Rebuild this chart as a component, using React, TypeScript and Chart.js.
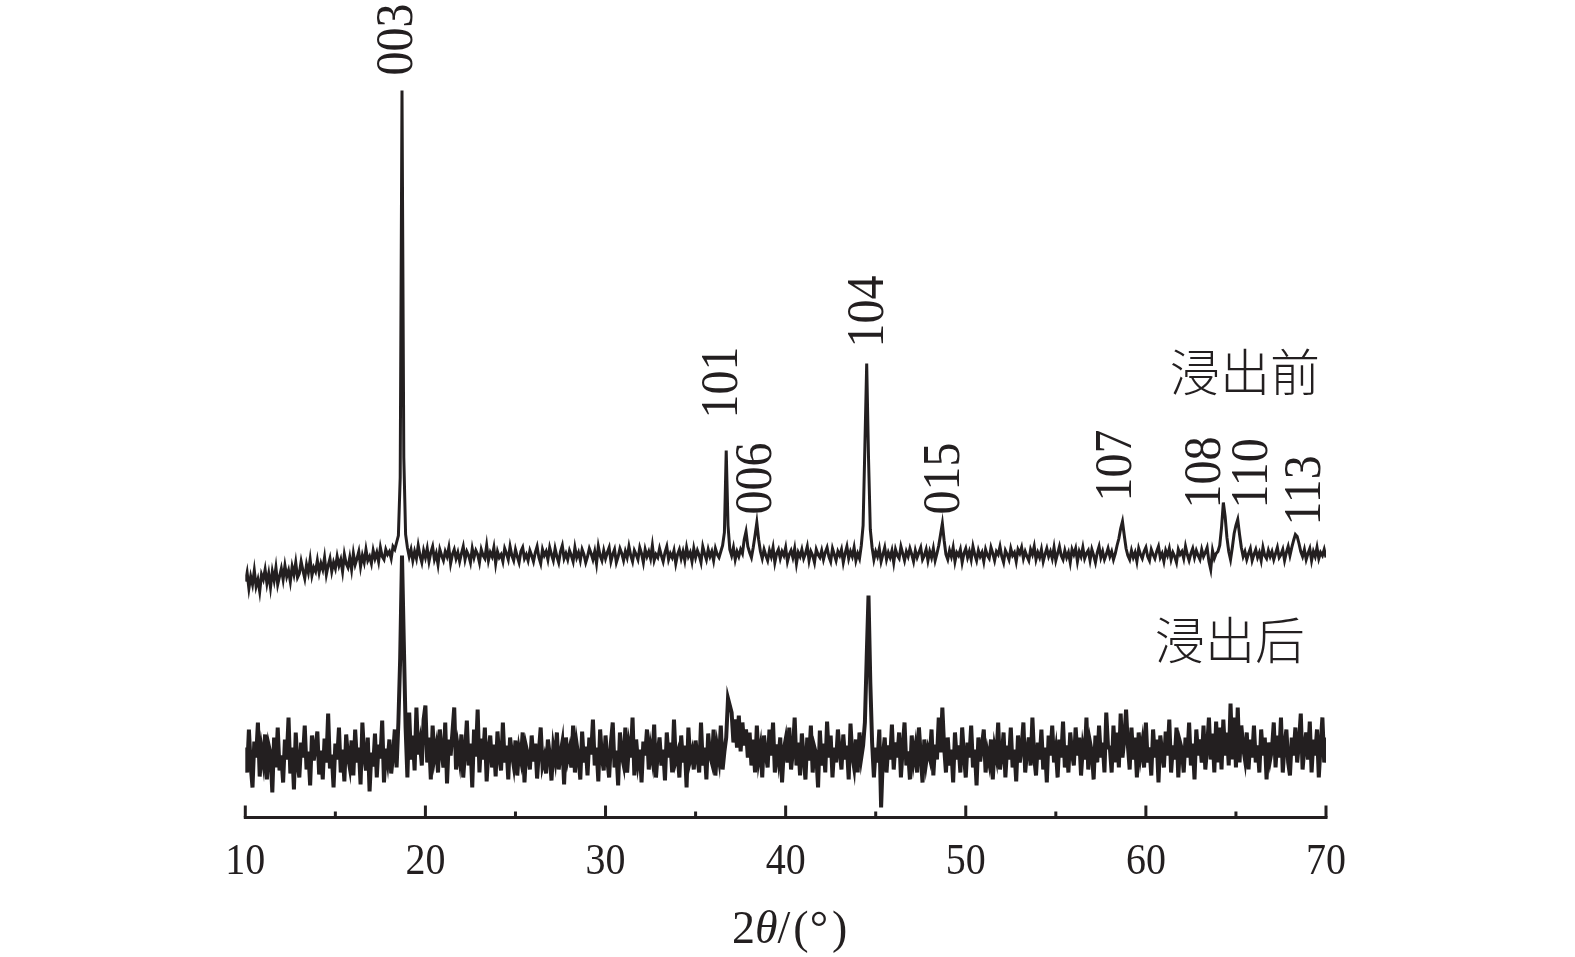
import React, { useEffect, useRef } from "react";
import { Chart, registerables } from "chart.js";

Chart.register(...registerables);

// 2θ sampling grid (degrees)
const twoThetaStart = 10;
const twoThetaStep = 0.1;

// XRD intensity (a.u., stacked) before leaching, 10.0° … 70.0° every 0.1°
const beforeLeaching = [
  236,245,229,241,233,247,231,238,226,243,
  238,248,234,244,230,246,237,250,233,241,
  249,238,252,241,247,236,251,243,255,240,
  244,256,247,239,253,245,258,242,250,246,
  257,245,254,248,260,243,252,259,246,255,
  249,261,252,258,246,263,254,250,260,248,
  264,253,259,266,251,262,255,268,257,261,
  254,267,259,265,256,270,261,258,268,263,
  266,259,271,268,275,282,340,727,360,283,
  270,261,268,257,266,259,272,262,255,267,
  260,269,256,265,271,258,264,253,268,262,
  257,266,261,270,254,263,268,259,265,256,
  264,271,258,266,262,255,269,260,267,263,
  255,268,262,259,272,257,265,261,270,254,
  266,260,263,256,269,264,258,271,262,257,
  268,261,255,266,270,259,263,257,267,262,
  256,265,271,260,254,268,262,266,258,270,
  263,257,269,261,255,266,272,259,264,258,
  267,262,256,270,260,265,257,268,263,255,
  261,269,264,258,266,254,271,262,257,267,
  259,265,270,256,263,268,255,261,269,264,
  257,266,260,271,262,256,267,263,258,270,
  264,255,268,261,266,259,272,257,263,260,
  269,262,256,265,271,258,264,260,267,254,
  263,268,259,266,257,270,261,265,256,269,
  260,267,262,255,271,264,258,268,261,266,
  257,269,263,260,266,272,285,367,292,268,
  262,270,258,266,261,268,264,278,286,271,
  265,260,270,282,295,278,266,259,268,262,
  257,267,261,270,255,264,268,259,266,262,
  270,256,263,267,260,269,254,265,261,268,
  259,264,271,257,266,262,255,268,263,260,
  267,258,265,270,261,256,269,263,257,266,
  262,268,255,264,271,259,266,261,270,257,
  264,259,272,292,372,454,360,288,270,258,
  266,261,269,256,263,270,258,265,260,267,
  255,268,262,259,271,264,257,266,261,269,
  263,256,267,260,265,270,258,262,268,257,
  266,260,269,257,264,272,283,294,277,263,
  258,267,261,270,256,265,262,268,255,264,
  269,260,266,258,271,263,257,267,261,265,
  256,268,262,259,270,264,257,266,263,271,
  261,255,267,263,258,269,262,265,256,268,
  264,270,259,266,261,257,268,263,271,258,
  265,260,268,256,263,269,261,266,259,270,
  257,264,271,262,258,267,260,265,255,268,
  263,269,256,266,261,270,259,264,267,257,
  268,262,255,265,271,260,266,258,263,269,
  261,266,258,264,272,279,289,296,282,269,
  262,258,267,260,265,256,269,263,259,266,
  270,261,257,268,263,259,266,271,260,264,
  256,267,262,269,258,265,261,255,268,263,
  266,259,271,263,257,264,269,260,267,262,
  258,268,261,265,270,256,248,267,259,264,
  266,272,290,315,301,280,266,258,270,284,
  292,298,283,270,261,266,258,264,269,257,
  263,268,260,265,257,270,262,259,267,261,
  266,258,264,270,260,263,268,257,265,271,
  262,270,277,283,281,274,266,261,268,258,
  264,269,257,266,261,270,259,265,262,268,
  260,
];

// XRD intensity (a.u., stacked) after leaching, 10.0° … 70.0° every 0.1°
const afterLeaching = [
  70,45,88,52,30,76,60,95,41,68,
  55,83,38,72,64,25,80,50,90,47,
  62,35,78,58,100,44,70,28,85,53,
  40,75,60,92,48,66,32,82,57,71,
  86,43,67,38,79,55,104,49,63,30,
  74,58,90,45,68,36,83,61,50,77,
  42,88,55,70,33,95,62,47,80,26,
  65,51,84,40,73,59,97,35,69,56,
  78,44,62,88,50,95,160,262,175,90,
  40,105,58,82,47,110,63,75,52,98,
  112,55,80,38,92,60,71,45,88,66,
  50,95,34,78,62,85,110,48,70,57,
  83,40,66,97,52,74,30,88,61,108,
  45,79,58,90,36,68,82,50,73,41,
  86,60,47,95,55,72,38,80,64,52,
  77,42,68,58,85,35,70,62,48,82,
  56,74,39,66,90,52,60,44,78,63,
  37,70,58,85,48,64,75,33,80,59,
  68,50,92,45,73,60,38,86,55,71,
  42,80,63,98,52,70,36,88,60,47,
  82,58,40,75,95,50,67,32,85,62,
  53,90,45,72,60,100,42,78,55,68,
  35,76,62,88,48,70,58,93,40,65,
  80,52,68,37,85,60,75,45,98,57,
  64,40,82,55,72,30,90,58,66,48,
  77,60,45,95,52,70,38,84,62,55,
  88,42,70,58,92,48,66,80,119,112,
  105,75,98,70,102,66,95,72,88,60,
  85,52,78,45,92,58,70,40,82,63,
  50,88,62,95,45,73,58,80,35,68,
  78,55,90,48,66,100,52,75,42,84,
  60,38,80,57,92,45,70,63,30,87,
  52,74,45,96,60,82,40,70,55,88,
  66,48,83,58,72,38,94,62,50,78,
  45,85,60,72,95,160,222,135,75,40,
  70,55,88,10,62,80,45,72,58,93,
  48,75,60,85,40,70,95,52,66,38,
  82,57,70,45,90,62,35,78,55,68,
  60,88,42,73,58,100,65,110,70,45,
  80,52,68,35,85,58,72,45,90,62,
  40,75,60,92,50,68,32,80,56,72,
  88,45,65,55,78,38,70,60,95,48,
  62,85,40,72,58,90,50,68,36,82,
  55,70,95,45,66,80,52,100,60,42,
  75,58,88,48,70,35,82,62,92,55,
  68,40,78,60,96,50,72,45,85,64,
  52,90,62,80,42,70,58,100,48,75,
  65,38,82,55,92,60,75,45,105,70,
  70,45,92,55,85,50,104,60,78,108,
  72,48,90,58,80,40,85,62,75,50,
  95,55,70,42,88,60,78,35,82,65,
  50,86,62,98,45,72,58,90,40,75,
  68,45,80,60,95,52,74,38,88,62,
  78,55,92,48,70,100,58,84,45,96,
  55,90,48,98,62,85,52,114,58,100,
  50,110,55,92,70,58,85,48,78,60,
  92,55,72,45,88,62,80,38,75,58,
  68,95,50,82,60,100,45,72,88,55,
  42,80,62,90,55,75,104,48,70,85,
  58,96,45,78,62,88,40,72,100,55,
  80,
];

// Axis ticks
const majorTicks = [10, 20, 30, 40, 50, 60, 70];
const minorTicks = [15, 25, 35, 45, 55, 65];
const tickLabels = ["10", "20", "30", "40", "50", "60", "70"];

// Peak (hkl) annotations: text, 2θ of label centre, intensity at label start
const peakLabels = ["003", "101", "006", "104", "015", "107", "108", "110", "113"];
const peakLabelTheta = [18.26, 36.33, 38.19, 44.44, 48.65, 58.2, 63.12, 65.73, 68.7];
const peakLabelBase = [742, 399, 303, 470, 303, 316, 309, 309, 292];

// Series names (right-aligned at 2θ, baseline at intensity)
const seriesNames = ["浸出前", "浸出后"];
const seriesNameTheta = [69.67, 68.84];
const seriesNameBase = [427, 159];

const INK = "#231f20";
const SERIF = '"Liberation Serif", "Times New Roman", serif';

const twoTheta = beforeLeaching.map((_, i) => +(twoThetaStart + i * twoThetaStep).toFixed(1));

const decorPlugin = {
  id: "xrdDecor",
  afterDraw(chart: any) {
    const ctx: CanvasRenderingContext2D = chart.ctx;
    const xs = chart.scales.x;
    const ys = chart.scales.y;
    const area = chart.chartArea;
    ctx.save();
    ctx.strokeStyle = INK;
    ctx.fillStyle = INK;
    ctx.lineWidth = 3;
    ctx.lineCap = "butt";
    const axisY = ys.getPixelForValue(0);
    const x0 = xs.getPixelForValue(majorTicks[0]);
    const x1 = xs.getPixelForValue(majorTicks[majorTicks.length - 1]);
    ctx.beginPath();
    ctx.moveTo(x0 - 1.5, axisY);
    ctx.lineTo(x1 + 1.5, axisY);
    ctx.stroke();
    ctx.beginPath();
    majorTicks.forEach((t) => {
      const px = xs.getPixelForValue(t);
      ctx.moveTo(px, axisY);
      ctx.lineTo(px, axisY - 12);
    });
    minorTicks.forEach((t) => {
      const px = xs.getPixelForValue(t);
      ctx.moveTo(px, axisY);
      ctx.lineTo(px, axisY - 6);
    });
    ctx.stroke();

    // tick labels
    ctx.font = `40px ${SERIF}`;
    ctx.textAlign = "center";
    ctx.textBaseline = "alphabetic";
    majorTicks.forEach((t, i) => {
      const px = xs.getPixelForValue(t);
      ctx.save();
      ctx.translate(px, axisY + 56);
      ctx.scale(1, 1.12);
      ctx.fillText(tickLabels[i], 0, 0);
      ctx.restore();
    });

    // axis title 2θ/(°)
    const parts: [string, boolean, number][] = [
      ["2", false, 0],
      ["θ", true, 0],
      ["/", false, 3],
      ["(", false, 1],
      ["°", false, 4],
      [")", false, 0],
    ];
    const fontN = `46px ${SERIF}`;
    const fontI = `italic 46px ${SERIF}`;
    let total = 0;
    parts.forEach(([s, it, gap]) => {
      ctx.font = it ? fontI : fontN;
      total += ctx.measureText(s).width + gap;
    });
    let cx = (area.left + area.right) / 2 + 4 - total / 2;
    ctx.textAlign = "left";
    parts.forEach(([s, it, gap]) => {
      ctx.font = it ? fontI : fontN;
      ctx.fillText(s, cx, axisY + 125);
      cx += ctx.measureText(s).width + gap;
    });

    // peak labels (rotated)
    ctx.font = `48px ${SERIF}`;
    ctx.textAlign = "left";
    peakLabels.forEach((s, i) => {
      const px = xs.getPixelForValue(peakLabelTheta[i]);
      const py = ys.getPixelForValue(peakLabelBase[i]);
      ctx.save();
      ctx.translate(px + 17.5, py);
      ctx.rotate(-Math.PI / 2);
      ctx.scale(1, 1.08);
      ctx.fillText(s, 0, 0);
      ctx.restore();
    });

    // series names
    ctx.font = `300 50px "Noto Sans CJK SC", sans-serif`;
    ctx.textAlign = "right";
    seriesNames.forEach((s, i) => {
      const px = xs.getPixelForValue(seriesNameTheta[i]);
      const py = ys.getPixelForValue(seriesNameBase[i]);
      ctx.fillText(s, px, py);
    });
    ctx.restore();
  },
};

export default function App() {
  const canvasRef = useRef<HTMLCanvasElement | null>(null);

  useEffect(() => {
    if (!canvasRef.current) return;
    const chart = new Chart(canvasRef.current, {
      type: "line",
      data: {
        datasets: [
          {
            label: seriesNames[1],
            data: afterLeaching.map((v, i) => ({ x: twoTheta[i], y: v })),
            borderColor: INK,
            borderWidth: 4,
            borderJoinStyle: "miter",
            pointRadius: 0,
            tension: 0,
            fill: false,
          },
          {
            label: seriesNames[0],
            data: beforeLeaching.map((v, i) => ({ x: twoTheta[i], y: v })),
            borderColor: INK,
            borderWidth: 3,
            pointRadius: 0,
            tension: 0,
            fill: false,
          },
        ],
      },
      options: {
        animation: false,
        responsive: true,
        maintainAspectRatio: false,
        events: [],
        layout: { padding: { left: 245.3, right: 249, top: 17.5, bottom: 139.5 } },
        scales: {
          x: { type: "linear", min: 10, max: 70, display: false },
          y: { type: "linear", min: 0, max: 800, display: false },
        },
        plugins: {
          legend: { display: false },
          tooltip: { enabled: false },
        },
      },
      plugins: [decorPlugin],
    });
    return () => chart.destroy();
  }, []);

  return (
    <div style={{ position: "fixed", left: 0, top: 0, width: "1575px", height: "957px", background: "#fff" }}>
      <canvas ref={canvasRef} />
    </div>
  );
}
